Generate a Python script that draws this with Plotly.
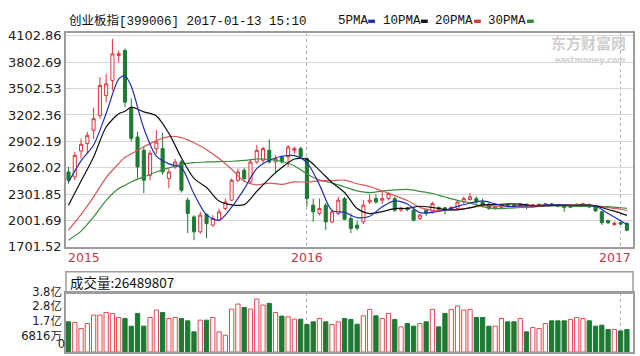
import plotly.graph_objects as go

# ---- data (weekly, index 0..89; 2016 starts at 38, 2017 at 88) ----
opens = [2553, 2496, 2792, 2876, 3027, 3197, 3424, 3595, 3880, 3935,
         3277, 2951, 2800, 2516, 2819, 2819, 2478, 2610, 2667, 2232,
         2042, 1872, 2070, 1948, 2005, 2137, 2232, 2459, 2572, 2440,
         2667, 2686, 2800, 2667, 2724, 2724, 2800, 2819, 2705, 2175,
         2080, 2175, 1985, 2081, 2250, 2024, 1948, 1985, 2212, 2250,
         2232, 2250, 2250, 2120, 2145, 2118, 2024, 2118, 2099, 2150,
         2145, 2130, 2137, 2212, 2240, 2250, 2212, 2185, 2140, 2150,
         2180, 2175, 2160, 2185, 2160, 2170, 2175, 2190, 2180, 2175,
         2150, 2170, 2180, 2185, 2160, 2100, 2000, 1955, 1975, 1967]
highs = [2610, 2780, 2932, 3008, 3285, 3632, 3670, 4068, 3935, 3960,
         3390, 3010, 2840, 2800, 3027, 3000, 2590, 2700, 2690, 2260,
         2062, 2100, 2081, 2062, 2137, 2250, 2480, 2590, 2600, 2700,
         2860, 2840, 2924, 2743, 2743, 2860, 2840, 2840, 2724, 2250,
         2250, 2200, 2120, 2270, 2270, 2080, 2000, 2232, 2300, 2300,
         2330, 2320, 2270, 2160, 2155, 2140, 2075, 2135, 2215, 2160,
         2155, 2165, 2230, 2275, 2315, 2275, 2250, 2200, 2165, 2180,
         2190, 2185, 2200, 2195, 2190, 2195, 2200, 2200, 2190, 2180,
         2185, 2195, 2200, 2190, 2170, 2110, 2010, 1985, 1990, 1985]
lows = [2421, 2459, 2705, 2762, 2932, 3160, 3348, 3480, 3800, 3290,
        2900, 2478, 2311, 2459, 2760, 2520, 2368, 2590, 2320, 1857,
        1777, 1850, 1800, 1930, 1990, 2120, 2220, 2440, 2440, 2420,
        2650, 2650, 2650, 2540, 2650, 2610, 2762, 2705, 2156, 1985,
        2060, 1891, 1970, 2062, 2005, 1857, 1890, 1960, 2190, 2190,
        2190, 2230, 2100, 2100, 2105, 1990, 2005, 2050, 2080, 2110,
        2070, 2115, 2125, 2190, 2225, 2190, 2150, 2120, 2125, 2135,
        2150, 2140, 2150, 2130, 2150, 2155, 2165, 2165, 2150, 2100,
        2140, 2160, 2170, 2140, 2100, 1950, 1960, 1940, 1950, 1880]
closes = [2459, 2743, 2868, 2970, 3160, 3538, 3557, 3898, 3900, 3348,
          2936, 2610, 2459, 2766, 2894, 2553, 2553, 2667, 2345, 2081,
          1872, 2062, 1965, 2024, 2099, 2212, 2459, 2553, 2478, 2667,
          2800, 2819, 2667, 2705, 2667, 2837, 2819, 2724, 2250, 2099,
          2137, 1985, 2099, 2232, 2015, 1910, 1914, 2175, 2232, 2212,
          2250, 2307, 2118, 2140, 2125, 2005, 2062, 2081, 2193, 2130,
          2120, 2150, 2212, 2250, 2270, 2212, 2175, 2140, 2155, 2170,
          2165, 2160, 2185, 2150, 2180, 2185, 2190, 2175, 2165, 2150,
          2175, 2185, 2190, 2155, 2110, 1975, 1975, 1970, 1960, 1890]
# volume in 亿
volume = [2.16, 2.11, 1.68, 2.04, 2.64, 2.64, 2.83, 2.76, 2.47, 2.40,
          1.85, 2.76, 1.85, 2.47, 3.00, 2.83, 2.40, 2.47, 2.40, 2.23,
          1.44, 2.28, 2.28, 2.47, 1.44, 1.20, 3.07, 3.43, 3.19, 3.07,
          3.79, 3.36, 3.48, 2.83, 2.57, 2.52, 2.35, 2.35, 1.97, 2.16,
          2.40, 2.16, 1.97, 2.16, 2.40, 2.33, 1.99, 2.59, 3.05, 2.59,
          2.40, 2.76, 2.33, 1.80, 2.04, 1.85, 2.04, 2.16, 3.05, 1.80,
          2.76, 3.05, 3.29, 3.00, 3.05, 2.47, 2.47, 1.85, 1.85, 2.40,
          2.16, 2.16, 2.40, 1.44, 1.75, 1.68, 2.04, 2.23, 2.23, 2.23,
          2.33, 2.47, 2.40, 2.23, 1.85, 1.92, 1.61, 1.61, 1.51, 1.61]

ma_idx = [0, 2, 4, 6, 8, 9, 10, 12, 14, 16, 18, 20, 22, 24, 26, 28, 30, 32, 34, 36,
          38, 40, 42, 44, 46, 48, 50, 52, 54, 56, 58, 60, 62, 64, 66, 68, 70, 72,
          74, 76, 78, 80, 82, 84, 86, 88, 89]
ma5 = [2440, 2680, 2860, 3219, 3611, 3648, 3528, 3051, 2733, 2645, 2602, 2304, 2065,
       2004, 2152, 2360, 2591, 2686, 2732, 2739, 2659, 2406, 2114, 2094, 2034, 2049,
       2157, 2224, 2188, 2090, 2093, 2117, 2161, 2200, 2224, 2190, 2161, 2167, 2168,
       2178, 2179, 2171, 2173, 2163, 2081, 1998, 1954]
ma10 = [2175, 2450, 2724, 3065, 3215, 3244, 3292, 3238, 3191, 2992, 2713, 2480, 2376,
        2222, 2179, 2181, 2332, 2478, 2603, 2701, 2696, 2572, 2432, 2320, 2137, 2080,
        2102, 2137, 2138, 2163, 2149, 2128, 2122, 2147, 2179, 2181, 2190, 2188, 2169,
        2168, 2173, 2172, 2175, 2168, 2126, 2085, 2059]
ma20 = [1891, 2070, 2270, 2490, 2650, 2720, 2760, 2840, 2910, 2955, 2945, 2886, 2807,
        2706, 2585, 2447, 2406, 2427, 2412, 2440, 2438, 2452, 2455, 2461, 2419, 2388,
        2337, 2284, 2229, 2150, 2115, 2115, 2129, 2143, 2171, 2165, 2159, 2155, 2158,
        2174, 2177, 2181, 2181, 2169, 2147, 2129, 2115]
ma30 = [1777, 1880, 2042, 2230, 2364, 2400, 2440, 2497, 2553, 2600, 2640, 2660, 2667,
        2670, 2675, 2685, 2701, 2697, 2672, 2624, 2530, 2461, 2429, 2382, 2339, 2319,
        2336, 2349, 2354, 2333, 2308, 2268, 2230, 2202, 2159, 2137, 2140, 2149, 2152,
        2170, 2168, 2163, 2161, 2161, 2158, 2146, 2138]

price_ticks = [1701.52, 2001.69, 2301.85, 2602.02, 2902.19, 3202.36, 3502.53, 3802.69, 4102.86]
vol_ticks = [0.6816, 1.7, 2.8, 3.8]
vol_tick_text = ["6816万", "1.7亿", "2.8亿", "3.8亿"]
vol_zero_tick = [0]
vol_zero_text = ["0"]
year_pos = [-0.4, 38, 89.97]
year_text = ["2015", "2016", "2017"]
title_text = "创业板指[399006] 2017-01-13 15:10"
vol_text = "成交量:26489807"

RED = "#e0323c"
GREEN = "#1d7a33"
FRAME = "#9c9c9c"
idx = list(range(len(closes)))

fig = go.Figure()
fig.add_trace(go.Candlestick(
    x=idx, open=opens, high=highs, low=lows, close=closes,
    increasing=dict(line=dict(color=RED, width=1), fillcolor="white"),
    decreasing=dict(line=dict(color=GREEN, width=1), fillcolor=GREEN),
    whiskerwidth=0, showlegend=False, xaxis="x", yaxis="y"))

for vals, col in [(ma30, "#3a8c3f"), (ma20, "#d65a5a"), (ma10, "#111111"), (ma5, "#2030b0")]:
    fig.add_trace(go.Scatter(x=ma_idx, y=vals, mode="lines",
                             line=dict(color=col, width=1.2, shape="spline", smoothing=0.8),
                             showlegend=False, hoverinfo="skip", xaxis="x", yaxis="y"))

up = [c >= o for o, c in zip(opens, closes)]
fig.add_trace(go.Bar(
    x=idx, y=volume, width=0.68,
    marker=dict(color=["white" if u else GREEN for u in up],
                line=dict(color=["#e04a50" if u else GREEN for u in up], width=1)),
    showlegend=False, xaxis="x2", yaxis="y2"))

# invisible anchor so the overlaid zero-label axis is drawn
fig.add_trace(go.Scatter(x=[idx[0]], y=vol_zero_tick, mode="markers",
                         marker=dict(opacity=0, size=1), hoverinfo="skip",
                         showlegend=False, xaxis="x2", yaxis="y3"))

xcommon = dict(range=[-0.4, 89.97], tickvals=[38, 88], showticklabels=False, ticks="",
               showgrid=True, gridcolor="#b5b5b5", griddash="dot", gridwidth=1,
               zeroline=False, showline=True, mirror=True, linecolor=FRAME, linewidth=1.5,
               automargin=False)

main_bottom = 0.328
vol_top = 0.184
vol_font = dict(family="DejaVu Sans, Noto Sans CJK SC", size=11.5, color="#222")
fig.update_layout(
    width=640, height=356,
    margin=dict(l=66, r=7, t=33, b=4, autoexpand=False),
    paper_bgcolor="white", plot_bgcolor="white",
    xaxis=dict(**xcommon, anchor="y", rangeslider=dict(visible=False)),
    yaxis=dict(domain=[main_bottom, 1], range=[1695, 4135], tickvals=price_ticks,
               ticktext=[f"{v:.2f}" for v in price_ticks],
               tickfont=dict(family="DejaVu Sans", size=13, color="#222"),
               showgrid=True, gridcolor="#d6d6d6", gridwidth=1, zeroline=False,
               showline=True, mirror=True, linecolor=FRAME, linewidth=1.5, ticks="",
               automargin=False),
    xaxis2=dict(**xcommon, anchor="y2", matches="x"),
    yaxis2=dict(domain=[0, vol_top], range=[0, 4.2], tickvals=vol_ticks, ticktext=vol_tick_text,
                tickfont=vol_font, ticklabelshift=-7, ticklabeloverflow="allow",
                showgrid=False, zeroline=False, showline=True, mirror=True,
                linecolor=FRAME, linewidth=1.5, ticks="", automargin=False),
    yaxis3=dict(overlaying="y2", range=[0, 4.2], anchor="x2", side="left",
                tickvals=vol_zero_tick, ticktext=vol_zero_text, tickfont=vol_font,
                ticklabelposition="outside top", ticklabeloverflow="allow",
                showgrid=False, zeroline=False, showline=False, ticks="", automargin=False),
    bargap=0.3,
)

# volume header box
fig.add_shape(type="rect", xref="paper", yref="paper", x0=0, x1=1, y0=vol_top, y1=0.2517,
              line=dict(color=FRAME, width=1.5), fillcolor="rgba(0,0,0,0)")

ann = []
ann.append(dict(text=title_text, xref="paper", yref="paper", x=0.002, y=1.039,
                xanchor="left", yanchor="middle", showarrow=False,
                font=dict(family="Liberation Mono, Noto Sans CJK SC", size=12.5, color="#111")))
legend_items = [("5PMA", 0.476, 0.533, "#2030b0"), ("10PMA", 0.5556, 0.626, "#111111"),
                ("20PMA", 0.647, 0.7196, "#d03a3a"), ("30PMA", 0.7407, 0.813, "#2f8a3a")]
for name, tx, dx, col in legend_items:
    ann.append(dict(text=name, xref="paper", yref="paper", x=tx, y=1.039,
                    xanchor="left", yanchor="middle", showarrow=False,
                    font=dict(family="Liberation Mono", size=12.5, color="#111")))
    fig.add_shape(type="rect", xref="paper", yref="paper", x0=dx, x1=dx + 0.012,
                  y0=1.0315, y1=1.042, line=dict(width=0), fillcolor=col)

for xp, t in zip(year_pos, year_text):
    if xp < 0:
        anchor = "left"
    elif xp > 89:
        anchor = "right"
    else:
        anchor = "center"
    ann.append(dict(text=t, xref="x", yref="paper", x=xp, y=0.2947, xanchor=anchor,
                    yanchor="middle", showarrow=False,
                    font=dict(family="DejaVu Sans", size=12.5, color="#c23a4a")))

ann.append(dict(text=vol_text, xref="paper", yref="paper", x=0.004, y=0.218,
                xanchor="left", yanchor="middle", showarrow=False,
                font=dict(family="Noto Sans CJK SC", size=13.5, color="#111")))

# watermark
ann.append(dict(text="<b>东方财富网</b>", xref="paper", yref="paper", x=0.921, y=0.969,
                xanchor="center", yanchor="middle", showarrow=False,
                font=dict(family="Noto Sans CJK SC", size=15, color="#cfcfcf")))
ann.append(dict(text="<b>eastmoney.com</b>", xref="paper", yref="paper", x=0.925, y=0.915,
                xanchor="center", yanchor="middle", showarrow=False,
                font=dict(family="DejaVu Sans", size=8, color="#d2d2d2")))
fig.update_layout(annotations=ann)

fig.write_html("out.html", config={"displayModeBar": False},
               post_script="document.body.style.margin='0px';")
